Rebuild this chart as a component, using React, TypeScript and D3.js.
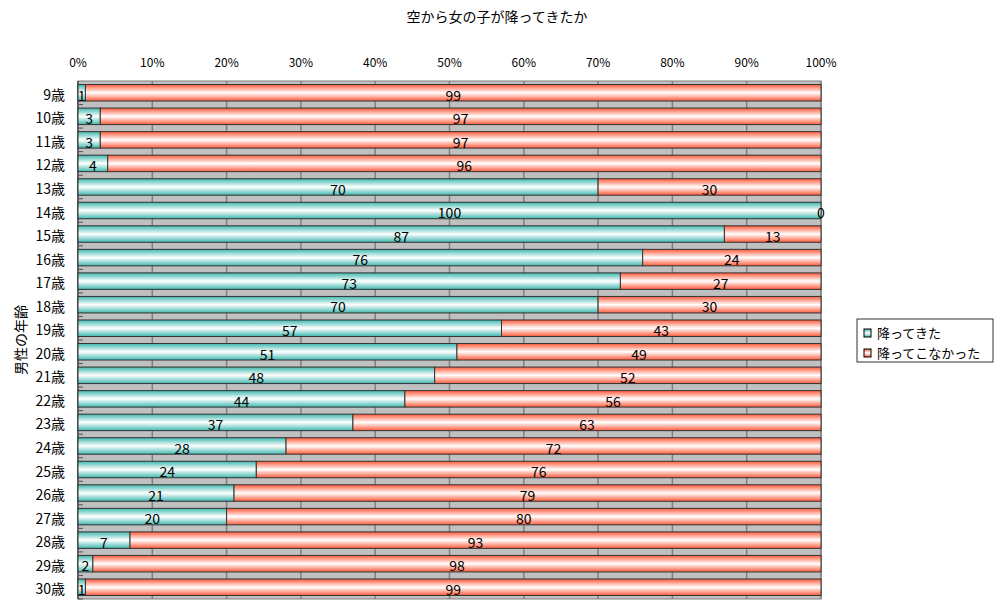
import React from "react";
import * as d3 from "d3";

const title = "空から女の子が降ってきたか";
const yTitle = "男性の年齢";
const categories = ["9歳","10歳","11歳","12歳","13歳","14歳","15歳","16歳","17歳","18歳","19歳","20歳","21歳","22歳","23歳","24歳","25歳","26歳","27歳","28歳","29歳","30歳"];
const fell = [1,3,3,4,70,100,87,76,73,70,57,51,48,44,37,28,24,21,20,7,2,1];
const notFell = [99,97,97,96,30,0,13,24,27,30,43,49,52,56,63,72,76,79,80,93,98,99];
const seriesNames = ["降ってきた", "降ってこなかった"];
const ticks = [0,10,20,30,40,50,60,70,80,90,100];

const FONT = "'Noto Sans CJK JP', sans-serif";

export default function App() {
  const W = 1000, H = 611;
  const left = 78, right = 821, top = 81, bottom = 599;
  const x = d3.scaleLinear().domain([0, 100]).range([left, right]);
  const y = d3.scaleBand<string>().domain(categories).range([top, bottom]).paddingInner(0.3).paddingOuter(0.15);
  const yb = d3.scaleBand<string>().domain(categories).range([top, bottom]);
  const bh = y.bandwidth();
  return (
    <svg width={W} height={H} style={{ position: "absolute", left: 0, top: 0, fontFamily: FONT }}>
      <defs>
        <linearGradient id="gTeal" x1="0" y1="0" x2="0" y2="1">
          <stop offset="0" stopColor="#3fb8b0" />
          <stop offset="0.5" stopColor="#ffffff" />
          <stop offset="1" stopColor="#3fb8b0" />
        </linearGradient>
        <linearGradient id="gRed" x1="0" y1="0" x2="0" y2="1">
          <stop offset="0" stopColor="#ff5a3a" />
          <stop offset="0.5" stopColor="#ffffff" />
          <stop offset="1" stopColor="#ff5a3a" />
        </linearGradient>
      </defs>
      <rect x={0} y={0} width={W} height={H} fill="#fff" />
      <text x={497} y={22} textAnchor="middle" fontSize={14} fill="#000">{title}</text>
      <rect x={left} y={top} width={right - left} height={bottom - top} fill="#c0c0c0" stroke="#808080" strokeWidth={1} />
      {ticks.map(t => (
        <g key={t}>
          <line x1={x(t)} x2={x(t)} y1={top} y2={bottom} stroke="#808080" strokeWidth={1.5} />
          <text x={x(t)} y={67} textAnchor="middle" fontSize={12} fill="#000">{t}%</text>
        </g>
      ))}
      <line x1={left} x2={left} y1={top} y2={bottom} stroke="#333" strokeWidth={1} />
      {categories.map(c => (
        <line key={"t" + c} x1={left} x2={left + 5} y1={(yb(c) as number) + yb.bandwidth()} y2={(yb(c) as number) + yb.bandwidth()} stroke="#555" strokeWidth={1} />
      ))}
      {categories.map((c, i) => {
        const yy = y(c) as number;
        const a = fell[i], b = notFell[i];
        const cy = yy + bh - 0.5;
        return (
          <g key={c}>
            <rect x={x(0)} y={yy} width={x(a) - x(0)} height={bh} fill="url(#gTeal)" stroke="#333" strokeWidth={1} />
            <rect x={x(a)} y={yy} width={x(a + b) - x(a)} height={bh} fill="url(#gRed)" stroke="#333" strokeWidth={1} />
            <text x={(x(0) + x(a)) / 2} y={cy} textAnchor="middle" fontSize={14} fill="#000">{a}</text>
            <text x={(x(a) + x(a + b)) / 2} y={cy} textAnchor="middle" fontSize={14} fill="#000">{b}</text>
            <text x={65} y={(yb(c) as number) + yb.bandwidth() / 2 + 7} textAnchor="end" fontSize={14} fill="#000">{c}</text>
          </g>
        );
      })}
      <text transform={`translate(26,${(top + bottom) / 2}) rotate(-90)`} textAnchor="middle" fontSize={14} fill="#000">{yTitle}</text>
      <rect x={857} y={319} width={136} height={43} fill="#fff" stroke="#333" strokeWidth={1} />
      {seriesNames.map((s, i) => (
        <g key={s}>
          <rect x={864} y={329 + i * 20} width={7} height={8} fill={i === 0 ? "url(#gTeal)" : "url(#gRed)"} stroke="#000" strokeWidth={1} />
          <text x={877} y={338 + i * 20} fontSize={13} fill="#000">{s}</text>
        </g>
      ))}
    </svg>
  );
}
